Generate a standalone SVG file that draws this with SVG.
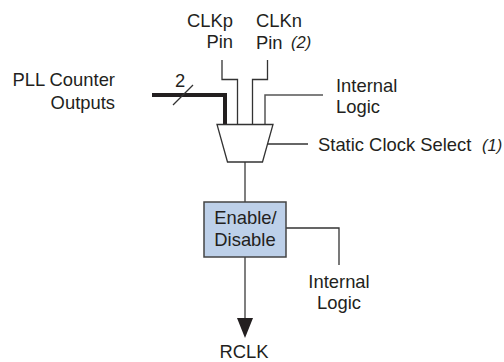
<svg xmlns="http://www.w3.org/2000/svg" width="504" height="362" viewBox="0 0 504 362">
<style>
text{font-family:"Liberation Sans",Arial,sans-serif;font-size:18.4px;fill:#231f20}
.i{font-style:italic;font-size:16.5px}
.m{text-anchor:middle}
.e{text-anchor:end}
.w{fill:none;stroke:#333;stroke-width:1.3}
.g{fill:none;stroke:#555;stroke-width:1.5}
</style>
<rect width="504" height="362" fill="#fff"/>
<g id="connectors">
<path class="w" d="M222 60V79.500H237.500V124"/>
<path class="w" d="M267.500 60V79.500H252.500V124"/>
<path class="g" d="M323 95H265V124"/>
<path fill="none" stroke="#231f20" stroke-width="4" d="M152 95H225V124"/>
<path class="w" d="M173 105L193 85"/>
<path class="w" d="M268 144H308"/>
<path class="g" d="M245 162V202"/>
<path class="w" d="M286 228H339V265"/>
<path class="g" d="M245 257V320"/>
<path fill="#231f20" d="M237 318H253L245 338Z"/>
</g>
<g id="mux"><path d="M217 124.500H273L262.500 162H227.500Z" fill="#fff" stroke="#333" stroke-width="1.3"/></g>
<g id="enable-disable">
<rect x="204" y="202" width="82" height="55" fill="#bdd0e9" stroke="#444" stroke-width="1.5"/>
<text class="m" x="245.500" y="224">Enable/</text>
<text class="m" x="245" y="246">Disable</text>
</g>
<g id="labels">
<text class="m" x="210" y="27">CLKp</text>
<text class="e" x="233" y="48">Pin</text>
<text x="256" y="27">CLKn</text>
<text x="256" y="49">Pin</text>
<text class="i" x="291" y="48">(2)</text>
<text class="e" x="115" y="86">PLL Counter</text>
<text class="e" x="115" y="109">Outputs</text>
<text x="175" y="87">2</text>
<text x="336" y="92">Internal</text>
<text x="336" y="113">Logic</text>
<text x="318" y="151">Static Clock Select</text>
<text class="i" x="482" y="151">(1)</text>
<text class="m" x="339" y="288">Internal</text>
<text class="m" x="339" y="309">Logic</text>
<text class="m" x="244" y="358">RCLK</text>
</g>
</svg>
